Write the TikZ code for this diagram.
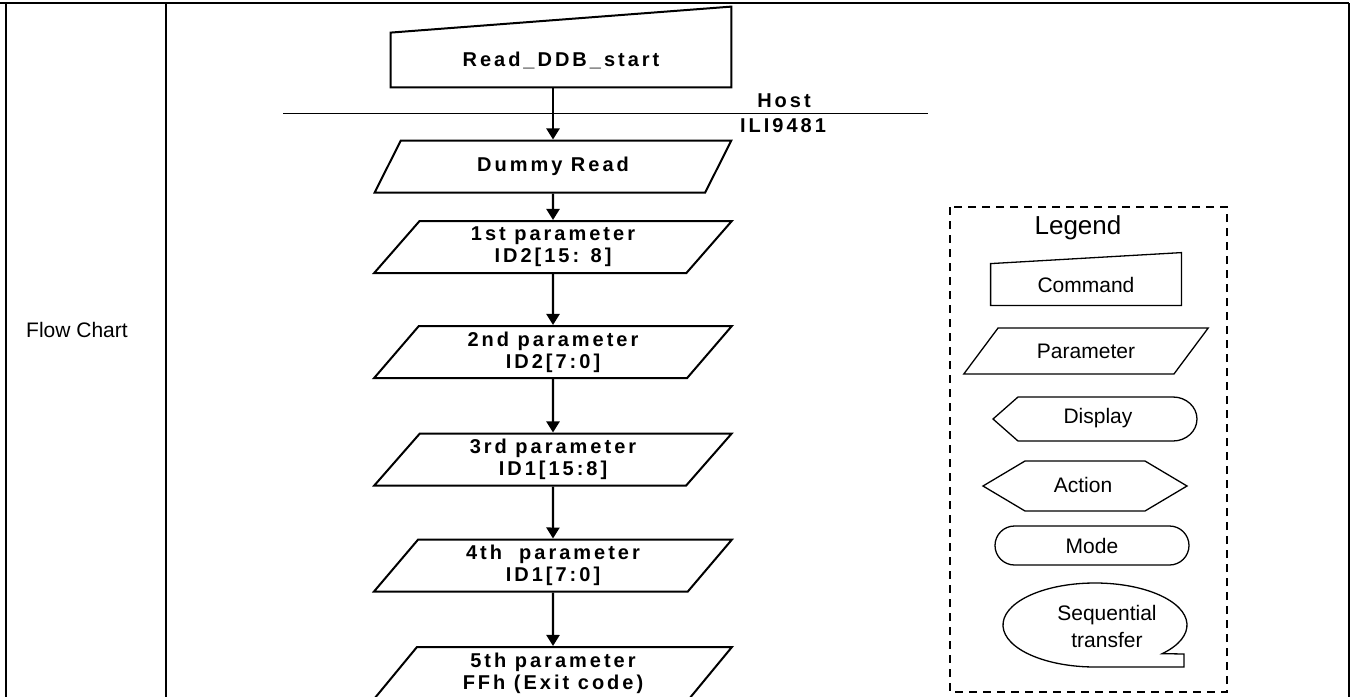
\documentclass[tikz,border=0pt]{standalone}
\usepackage{fontspec}
\setmainfont{Liberation Sans}
\newfontfamily\flowfont[LetterSpace=15]{Liberation Sans}
\usetikzlibrary{arrows.meta,shapes.geometric,shapes.misc}

\begin{document}
\begin{tikzpicture}[
    x=0.5pt, y=-0.5pt,
    frame/.style={line width=1.2pt},
    cmdbox/.style={minimum width=170pt, minimum height=27pt, inner sep=0pt, align=center,
                   font=\flowfont\bfseries\fontsize{10}{11}\selectfont},
    param/.style={draw, line width=1pt, trapezium, trapezium left angle=55,
                  trapezium right angle=125, trapezium stretches, minimum width=179pt,
                  minimum height=26pt, inner sep=0pt, align=center,
                  font=\flowfont\bfseries\fontsize{10}{11}\selectfont},
    lbl/.style={font=\flowfont\bfseries\fontsize{10}{11}\selectfont},
    lg/.style={font=\fontsize{10.5}{13.5}\selectfont, align=center, inner sep=0pt},
    shp/.style={draw, line width=0.65pt},
    arr/.style={-{Triangle[length=5.5pt,width=6.5pt]}, line width=1.1pt}
]
    \useasboundingbox (0,0) rectangle (1357,697);
    \clip (0,0) rectangle (1357,697);

    % table frame
    \draw[frame] (0,3) -- (1349,3);
    \draw[frame] (6,3) -- (6,697);
    \draw[frame] (166,3) -- (166,697);
    \draw[frame] (1349,3) -- (1349,697);
    \node[lg] (title) at (77,330) {Flow Chart};

    % command sent by the host
    \node[cmdbox] (cmd) at (561,60) {Read\_DDB\_start};
    \draw[line width=1pt] (cmd.south west) -- (cmd.south east)
        -- ([yshift=13pt]cmd.north east) -- (cmd.north west) -- cycle;

    % host / driver split
    \draw[line width=0.5pt] (283,113) -- (928,113);
    \node[lbl] (host) at (784,101) {Host};
    \node[lbl] (chip) at (783,126) {ILI9481};

    % parameters read back
    \node[param] (dum) at (553,166.5) {Dummy Read};
    \node[param] (p1) at (553,247)   {1st parameter\\ID2[15: 8]};
    \node[param] (p2) at (553,352)   {2nd parameter\\ID2[7:0]};
    \node[param] (p3) at (553,459.5) {3rd parameter\\ID1[15:8]};
    \node[param] (p4) at (553,565.5) {4th\ \ parameter\\ID1[7:0]};
    \node[param] (p5) at (553,673)   {5th parameter\\FFh (Exit code)};

    \draw[arr] (cmd.south -| dum.north) -- (dum.north);
    \draw[arr] (dum) -- (p1);
    \draw[arr] (p1) -- (p2);
    \draw[arr] (p2) -- (p3);
    \draw[arr] (p3) -- (p4);
    \draw[arr] (p4) -- (p5);

    % legend
    \draw[line width=1pt, dash pattern=on 4pt off 3pt] (950,207) rectangle (1227,692);
    \node[font=\fontsize{13}{15}\selectfont] (leg) at (1078,228) {Legend};

    \node[cmdbox, lg, minimum width=95pt, minimum height=20.5pt] (lcmd) at (1086,284.5) {Command};
    \draw[shp] (lcmd.south west) -- (lcmd.south east)
        -- ([yshift=5.5pt]lcmd.north east) -- (lcmd.north west) -- cycle;

    \node[shp, lg, trapezium, trapezium left angle=37.5, trapezium right angle=142.5,
          trapezium stretches, minimum width=123pt, minimum height=23pt] (lpar) at (1086,351) {Parameter};

    \node[lg] (ldisp) at (1098,418) {Display};
    \draw[shp] (993,419) -- (1018,397) -- (1173,397)
        arc[start angle=90, end angle=-90, x radius=12pt, y radius=11pt] -- (1018,441) -- cycle;

    \node[lg] (lact) at (1083,485) {Action};
    \draw[shp] (983,486) -- (1025,461) -- (1145,461) -- (1187,486) -- (1145,511) -- (1025,511) -- cycle;

    \node[shp, lg, rounded rectangle, minimum width=97pt, minimum height=19.5pt] (lmode) at (1092,545.5) {Mode};

    \node[lg] (lseq) at (1107,626) {Sequential\\transfer};
    \draw[shp] (1095,625) ++(-43:46pt and 21pt)
        arc[start angle=-43, end angle=270, x radius=46pt, y radius=21pt]
        -- (1184,667) -- (1184,654) -- cycle;
\end{tikzpicture}
\end{document}
